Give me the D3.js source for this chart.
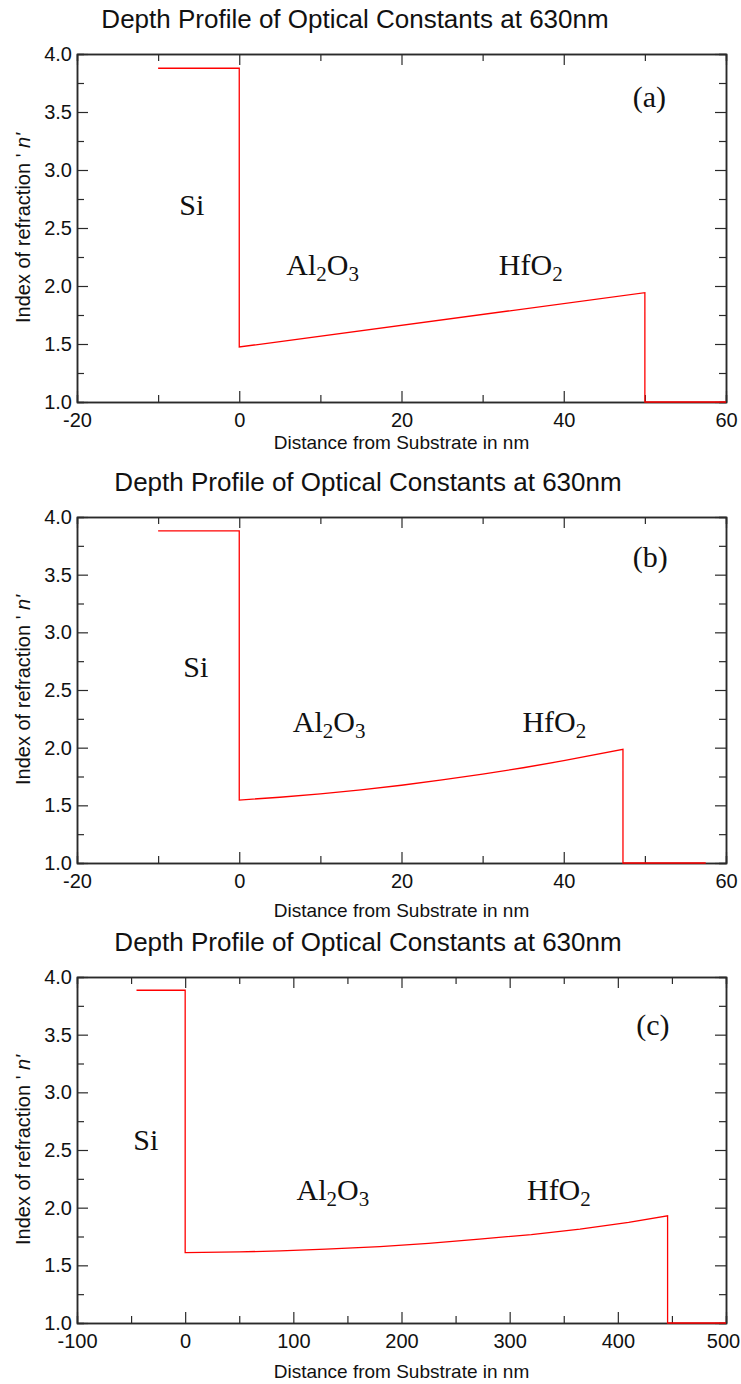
<!DOCTYPE html>
<html>
<head>
<meta charset="utf-8">
<script src="https://cdn.jsdelivr.net/npm/d3@7"></script>
<style>
  body { margin: 0; background: #fff; }
</style>
</head>
<body>
<div id="container"></div>
<script>
// Depth profile, panel (a)
const distA = [-10, 0, 0, 50, 50, 60];
const nA = [3.877, 3.877, 1.474, 1.942, 1.0, 1.0];

// panel (b)
const distB = [-10, 0, 0, 5, 10, 15, 20, 25, 30, 35, 40, 47.3, 47.3, 57.5];
const nB = [3.88, 3.88, 1.546, 1.570, 1.600, 1.634, 1.674, 1.720, 1.770, 1.826, 1.887, 1.986, 1.0, 1.0];

// panel (c)
const distC = [-45, 0, 0, 50, 88, 130, 180, 225, 272, 320, 365, 410, 446, 446, 500];
const nC = [3.885, 3.885, 1.611, 1.616, 1.626, 1.640, 1.663, 1.690, 1.727, 1.767, 1.814, 1.872, 1.929, 1.0, 1.0];

const title = "Depth Profile of Optical Constants at 630nm";
const xTitle = "Distance from Substrate in nm";
const layerNames = ["Si", "Al2O3", "HfO2"];
const panelTags = ["(a)", "(b)", "(c)"];

const width = 741;
const height = 1384;
const marginLeft = 77;
const marginRight = 15; // plot ends at 726

const panels = [
    { xs: distA, ys: nA, xDomain: [-20, 60], xStep: 20, top: 54, bottom: 402, titleX: 355, xLabelGap: 47,
      notes: [[-7.4, 2.61], [5.8, 2.095], [32.0, 2.095], [48.5, 3.54]] },
    { xs: distB, ys: nB, xDomain: [-20, 60], xStep: 20, top: 517, bottom: 863, titleX: 368, xLabelGap: 54,
      notes: [[-6.9, 2.61], [6.6, 2.136], [34.9, 2.136], [48.5, 3.57]] },
    { xs: distC, ys: nC, xDomain: [-100, 500], xStep: 100, top: 977, bottom: 1323, titleX: 368, xLabelGap: 55,
      notes: [[-48, 2.50], [103, 2.07], [316, 2.07], [417, 3.50]] }
];

const svg = d3.select("#container").append("svg")
    .attr("width", width)
    .attr("height", height)
    .style("font-family", "'Liberation Sans', Arial, sans-serif");

const frameColor = "#2a2a2a";

function styleAxis(g) {
    g.select(".domain").attr("stroke", frameColor).attr("stroke-width", 1.5);
    g.selectAll(".tick line").attr("stroke", frameColor).attr("stroke-width", 1.2);
    g.selectAll(".tick text").attr("fill", "#111").style("font-size", "20px");
}

function writeLayer(sel, name) {
    // chemical formula with subscripted digits
    const parts = name.match(/[A-Za-z]+|\d+/g);
    let sub = false;
    parts.forEach(p => {
        const isNum = /\d/.test(p);
        const t = sel.append("tspan").text(p);
        if (isNum && !sub) { t.attr("dy", 6).style("font-size", "21px"); sub = true; }
        else if (isNum) { t.style("font-size", "21px"); }
        else if (sub) { t.attr("dy", -6); sub = false; }
    });
}

panels.forEach((p, k) => {
    const x = d3.scaleLinear().domain(p.xDomain).range([marginLeft, width - marginRight]);
    const y = d3.scaleLinear().domain([1.0, 4.0]).range([p.bottom, p.top]);

    const xMajor = d3.range(p.xDomain[0], p.xDomain[1] + 1e-9, p.xStep);
    const xMinor = d3.range(p.xDomain[0] + p.xStep / 2, p.xDomain[1], p.xStep);
    const yMajor = d3.range(1.0, 4.0001, 0.5);
    const yMinor = d3.range(1.25, 4.0, 0.5);

    const g = svg.append("g");

    // minor ticks (no labels)
    g.append("g").attr("transform", `translate(0,${p.bottom})`)
        .call(d3.axisBottom(x).tickValues(xMinor).tickSize(-7).tickFormat(""))
        .call(styleAxis);
    g.append("g").attr("transform", `translate(0,${p.top})`)
        .call(d3.axisTop(x).tickValues(xMinor).tickSize(-7).tickFormat(""))
        .call(styleAxis);
    g.append("g").attr("transform", `translate(${marginLeft},0)`)
        .call(d3.axisLeft(y).tickValues(yMinor).tickSize(-7).tickFormat(""))
        .call(styleAxis);
    g.append("g").attr("transform", `translate(${width - marginRight},0)`)
        .call(d3.axisRight(y).tickValues(yMinor).tickSize(-7).tickFormat(""))
        .call(styleAxis);

    // major ticks
    const bottomAxis = g.append("g").attr("transform", `translate(0,${p.bottom})`)
        .call(d3.axisBottom(x).tickValues(xMajor).tickSize(-11).tickSizeOuter(0)
            .tickPadding(11).tickFormat(d => String(d)))
        .call(styleAxis);
    // last label sits at the page edge, nudge it in
    bottomAxis.selectAll(".tick text").filter(d => d === p.xDomain[1] && d >= 100).attr("dx", -3);

    g.append("g").attr("transform", `translate(0,${p.top})`)
        .call(d3.axisTop(x).tickValues(xMajor).tickSize(-11).tickSizeOuter(0).tickFormat(""))
        .call(styleAxis);
    g.append("g").attr("transform", `translate(${marginLeft},0)`)
        .call(d3.axisLeft(y).tickValues(yMajor).tickSize(-11).tickSizeOuter(0)
            .tickPadding(5).tickFormat(d3.format(".1f")))
        .call(styleAxis);
    g.append("g").attr("transform", `translate(${width - marginRight},0)`)
        .call(d3.axisRight(y).tickValues(yMajor).tickSize(-11).tickSizeOuter(0).tickFormat(""))
        .call(styleAxis);

    // profile line
    const line = d3.line().x(d => x(d[0])).y(d => y(d[1]));
    g.append("path")
        .datum(d3.zip(p.xs, p.ys))
        .attr("fill", "none")
        .attr("stroke", "#ff0000")
        .attr("stroke-width", 1.3)
        .attr("d", line);

    // title
    g.append("text")
        .attr("x", p.titleX)
        .attr("y", p.top - 26)
        .attr("text-anchor", "middle")
        .style("font-size", "26px")
        .attr("fill", "#111")
        .text(title);

    // axis titles
    g.append("text")
        .attr("x", (marginLeft + width - marginRight) / 2)
        .attr("y", p.bottom + p.xLabelGap)
        .attr("text-anchor", "middle")
        .style("font-size", "19px")
        .attr("fill", "#111")
        .text(xTitle);

    const yl = g.append("text")
        .attr("transform", `translate(30,${(p.top + p.bottom) / 2}) rotate(-90)`)
        .attr("text-anchor", "middle")
        .style("font-size", "20px")
        .attr("fill", "#111");
    yl.append("tspan").text("Index of refraction ' ");
    yl.append("tspan").style("font-style", "italic").text("n'");

    // layer labels
    const serif = "'Liberation Serif', 'Times New Roman', serif";
    layerNames.forEach((name, i) => {
        const t = g.append("text")
            .attr("x", x(p.notes[i][0]))
            .attr("y", y(p.notes[i][1]))
            .style("font-family", serif)
            .style("font-size", "30px")
            .attr("fill", "#111");
        writeLayer(t, name);
    });

    // panel tag
    g.append("text")
        .attr("x", x(p.notes[3][0]))
        .attr("y", y(p.notes[3][1]))
        .style("font-family", serif)
        .style("font-size", "30px")
        .attr("fill", "#111")
        .text(panelTags[k]);
});
</script>
</body>
</html>
